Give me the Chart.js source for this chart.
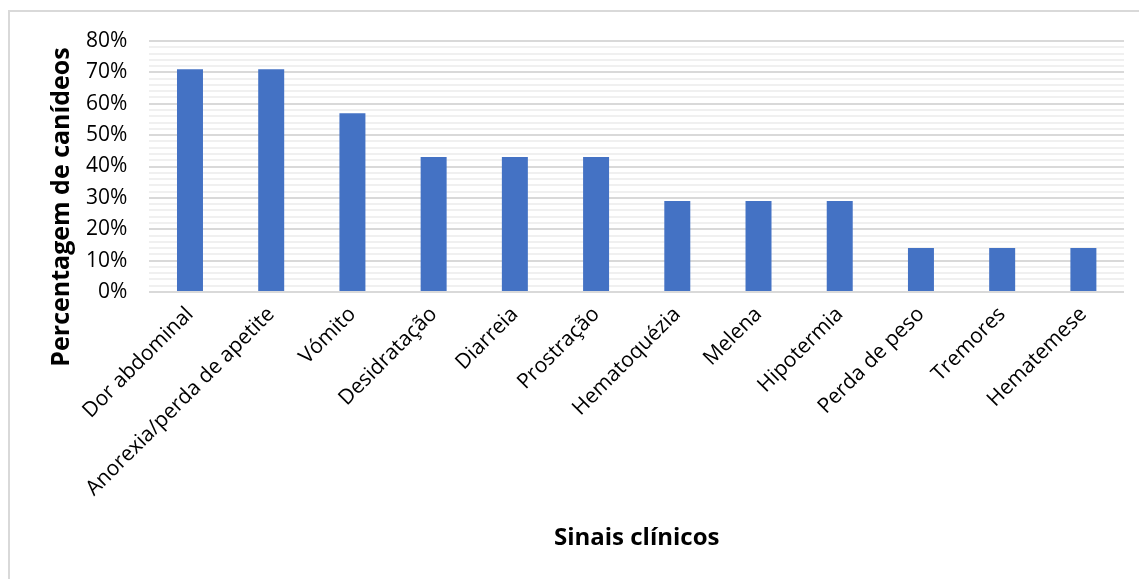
<!DOCTYPE html>
<html>
<head>
<meta charset="utf-8">
<script src="https://cdn.jsdelivr.net/npm/chart.js@4"></script>
<style>
  body { margin: 0; background: #fff; }
  #wrap { position: relative; width: 1139px; height: 579px; }
  #frame { position: absolute; left: 8px; top: 10px; right: 0; bottom: 0; border-left: 2px solid #d9d9d9; border-top: 2px solid #d9d9d9; }
  #box { position: absolute; left: 0; top: 0; width: 1139px; height: 579px; }
</style>
</head>
<body>
<div id="wrap">
  <div id="frame"></div>
  <div id="box"><canvas id="sinaisChart"></canvas></div>
</div>
<script>
// Dados do gráfico
const categorias = ['Dor abdominal', 'Anorexia/perda de apetite', 'Vómito', 'Desidratação', 'Diarreia',
    'Prostração', 'Hematoquézia', 'Melena', 'Hipotermia', 'Perda de peso', 'Tremores', 'Hematemese'];
const percentagens = [71, 71, 57, 43, 43, 43, 29, 29, 29, 14, 14, 14];
const yMax = 80;
const xTitulo = 'Sinais clínicos';
const yTitulo = 'Percentagem de canídeos';

// Título do eixo Y (no Excel não fica centrado no gráfico)
const yTitlePlugin = {
    id: 'yTitle',
    afterDraw(chart) {
        const c = chart.ctx;
        c.save();
        c.translate(62, 207);
        c.rotate(-Math.PI / 2);
        c.font = 'bold 25px "Open Sans"';
        c.fillStyle = '#000';
        c.textAlign = 'center';
        c.textBaseline = 'middle';
        c.fillText(yTitulo, 0, 0);
        c.restore();
    }
};

const ctx = document.getElementById('sinaisChart').getContext('2d');
const sinaisChart = new Chart(ctx, {
    type: 'bar',
    data: {
        labels: categorias,
        datasets: [{
            label: 'Percentagem',
            data: percentagens,
            backgroundColor: '#4472c4',
            barPercentage: 1,
            categoryPercentage: 0.32
        }]
    },
    options: {
        responsive: true,
        maintainAspectRatio: false,
        animation: false,
        layout: { padding: { left: 64, right: 15, top: 41, bottom: 10 } },
        plugins: {
            legend: { display: false },
            tooltip: { enabled: false },
            // título do eixo X como título do gráfico (o título da escala fica limitado em altura)
            title: {
                display: true,
                position: 'bottom',
                fullSize: false,
                text: xTitulo,
                color: '#000',
                font: { family: 'Open Sans', size: 24, weight: 'bold' },
                padding: { top: 21, bottom: 16 }
            }
        },
        scales: {
            x: {
                grid: { display: false },
                border: { display: false },
                ticks: {
                    color: '#000',
                    font: { family: 'Open Sans', size: 21 },
                    minRotation: 45,
                    maxRotation: 45,
                    padding: 2
                }
            },
            y: {
                min: 0,
                max: yMax,
                border: { display: false },
                grid: {
                    drawTicks: false,
                    lineWidth: 2,
                    color: c => (c.tick && c.tick.value % 10 === 0) ? '#d9d9d9' : '#f0f0f0'
                },
                ticks: {
                    stepSize: 2,
                    color: '#000',
                    padding: 22,
                    autoSkip: false,
                    font: { family: 'Open Sans', size: 21 },
                    callback: value => value % 10 === 0 ? value + '%' : ''
                }
            }
        }
    },
    plugins: [yTitlePlugin]
});
</script>
</body>
</html>
